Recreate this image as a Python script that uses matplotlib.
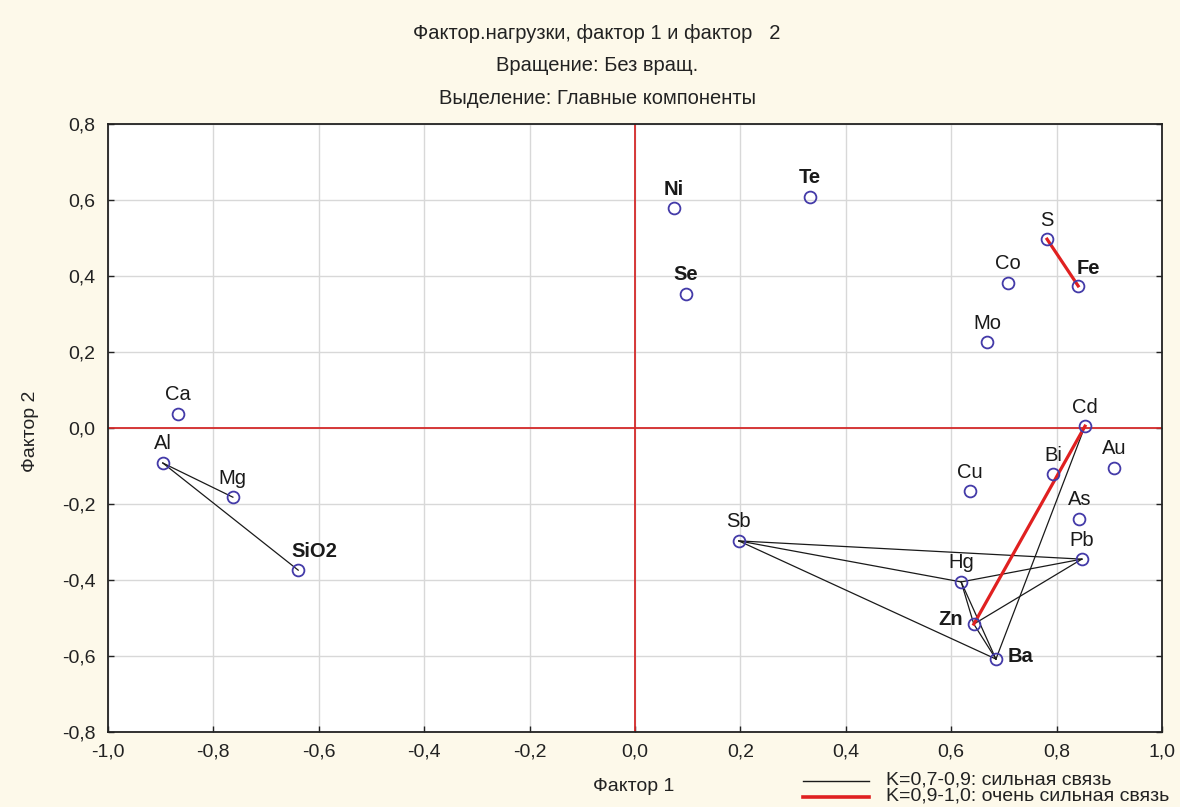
import numpy as np
import matplotlib.pyplot as plt
from matplotlib.ticker import FuncFormatter, MultipleLocator
from matplotlib.lines import Line2D

plt.rcParams['font.family'] = ['Liberation Sans', 'DejaVu Sans']

# Факторные нагрузки (фактор 1, фактор 2)
elementy = ["Ni", "Te", "Se", "S", "Co", "Fe", "Mo", "Ca", "Al", "Mg", "SiO2",
            "Cd", "Bi", "Au", "Cu", "As", "Pb", "Sb", "Hg", "Zn", "Ba"]
faktor1 = [0.074, 0.332, 0.097, 0.782, 0.708, 0.841, 0.668, -0.867, -0.896, -0.763, -0.639,
           0.854, 0.793, 0.909, 0.636, 0.843, 0.848, 0.197, 0.619, 0.643, 0.685]
faktor2 = [0.579, 0.608, 0.353, 0.497, 0.382, 0.374, 0.226, 0.037, -0.092, -0.182, -0.374,
           0.005, -0.121, -0.105, -0.166, -0.239, -0.345, -0.297, -0.405, -0.516, -0.608]

# Связи между элементами
svyazi_silnye = [("Al", "Mg"), ("Al", "SiO2"), ("Sb", "Pb"), ("Sb", "Hg"), ("Sb", "Ba"),
                 ("Hg", "Pb"), ("Zn", "Pb"), ("Hg", "Zn"), ("Hg", "Ba"), ("Zn", "Ba"),
                 ("Ba", "Cd")]
svyazi_ochen = [("Zn", "Cd"), ("S", "Fe")]
legenda = ["K=0,7-0,9: сильная связь", "K=0,9-1,0: очень сильная связь"]

# Смещения подписей в пикселях: (dx, dy, выравнивание)
smesh = {"Fe": (10, 17, "center"), "SiO2": (16, 19, "center"),
         "Zn": (-11, 5, "right"), "Ba": (12, 3, "left")}
zhirnye = {"Ni", "SiO2", "Zn", "Ba", "Fe", "Se", "Te"}

pos = {e: (x, y) for e, x, y in zip(elementy, faktor1, faktor2)}

fig = plt.figure(figsize=(11.8, 8.07), dpi=100, facecolor="#fdf9ea")
ax = fig.add_axes([0.0915, 0.0929, 0.8932, 0.7534])
ax.set_facecolor("white")

ax.set_xlim(-1.0, 1.0)
ax.set_ylim(-0.8, 0.8)
ax.xaxis.set_major_locator(MultipleLocator(0.2))
ax.yaxis.set_major_locator(MultipleLocator(0.2))
zapyataya = FuncFormatter(lambda v, p: f"{v:.1f}".replace(".", ",").replace("-0,0", "0,0"))
ax.xaxis.set_major_formatter(zapyataya)
ax.yaxis.set_major_formatter(zapyataya)
ax.grid(True, color="#d8d8d8", lw=1.0)
ax.set_axisbelow(True)
ax.tick_params(direction="in", length=4, width=1, labelsize=14, colors="#222222",
               right=True, top=False)
ax.tick_params(axis="x", pad=8)
ax.tick_params(axis="y", pad=9)
for s in ax.spines.values():
    s.set_linewidth(1.3)
    s.set_color("#222222")

ax.axvline(0, color="#d42a2a", lw=1.3, zorder=1)
ax.axhline(0, color="#d42a2a", lw=1.3, zorder=1)

for a, b in svyazi_silnye:
    ax.plot([pos[a][0], pos[b][0]], [pos[a][1], pos[b][1]], color="#1a1a1a", lw=0.9, zorder=2)
for a, b in svyazi_ochen:
    ax.plot([pos[a][0], pos[b][0]], [pos[a][1], pos[b][1]], color="#e02020", lw=2.3, zorder=2)

ax.plot(faktor1, faktor2, "o", ms=8.5, mfc="none", mec="#433aa8", mew=1.3, zorder=3)

for e, x, y in zip(elementy, faktor1, faktor2):
    dx, dy, ha = smesh.get(e, (0, 19, "center"))
    ax.annotate(e, (x, y), xytext=(dx, dy), textcoords="offset pixels",
                ha=ha, va="center", fontsize=14.5,
                fontweight="bold" if e in zhirnye else "normal", color="#1a1a1a")

fig.text(0.506, 0.958, "Фактор.нагрузки, фактор 1 и фактор   2", ha="center", va="center",
         fontsize=14.5, color="#222222")
fig.text(0.506, 0.919, "Вращение: Без вращ.", ha="center", va="center",
         fontsize=14.5, color="#222222")
fig.text(0.506, 0.878, "Выделение: Главные компоненты", ha="center", va="center",
         fontsize=14.5, color="#222222")

fig.text(0.537, 0.026, "Фактор 1", ha="center", va="center", fontsize=14, color="#222222")
fig.text(0.026, 0.466, "Фактор 2", ha="center", va="center", rotation=90,
         fontsize=14, color="#222222")

# Легенда под осью, справа
for i, (cvet, tolsh) in enumerate([("#1a1a1a", 1.0), ("#e02020", 2.6)]):
    yl = 1 - (781 + 16 * i) / 807
    fig.add_artist(Line2D([803 / 1180, 869 / 1180], [yl, yl], color=cvet, lw=tolsh))
    fig.text(886 / 1180, yl + 0.001, legenda[i], ha="left", va="center",
             fontsize=14, color="#222222")

fig.savefig("out.png", dpi=100, facecolor=fig.get_facecolor())
